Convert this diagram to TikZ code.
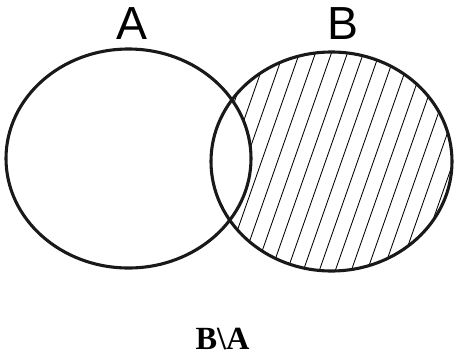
\documentclass[tikz,border=0pt]{standalone}
\usepackage{fontspec}
\setmainfont{Liberation Serif}
\newfontfamily\labelfont{Liberation Sans}
\usepackage{tikz}
\usetikzlibrary{positioning}

\begin{document}
\begin{tikzpicture}[
  x=0.025cm, y=-0.025cm,
  setline/.style={draw, line width=2.2pt, black!90},
  hatch/.style={line width=0.6pt, black},
  setname/.style={font=\labelfont\fontsize{33}{33}\selectfont, inner sep=0pt},
  caption/.style={font=\bfseries\fontsize{23}{23}\selectfont, inner sep=0pt},
]
  \useasboundingbox (0,0) rectangle (454,358);
  % hatching of B without A
  \begin{scope}
    \clip (331.5,161.5) ellipse [x radius=120.5, y radius=109.5];
    \foreach \k in {-4,...,16}
      \draw[hatch] (232.5+16*\k,290) -- (232.5+16*\k+101.5,0);
    \fill[white] (128.5,158.5) ellipse [x radius=122.5, y radius=109.5];
  \end{scope}
  % the two sets
  \draw[setline] (128.5,158.5) ellipse [x radius=122.5, y radius=109.5];
  \draw[setline] (331.5,161.5) ellipse [x radius=120.5, y radius=109.5];

  \node[setname] (labelA) at (132,24) {A};
  \node[setname] (labelB) at (343,24) {B};
  \node[caption] (diff) at (222.5,339) {B\textbackslash A};
\end{tikzpicture}
\end{document}
